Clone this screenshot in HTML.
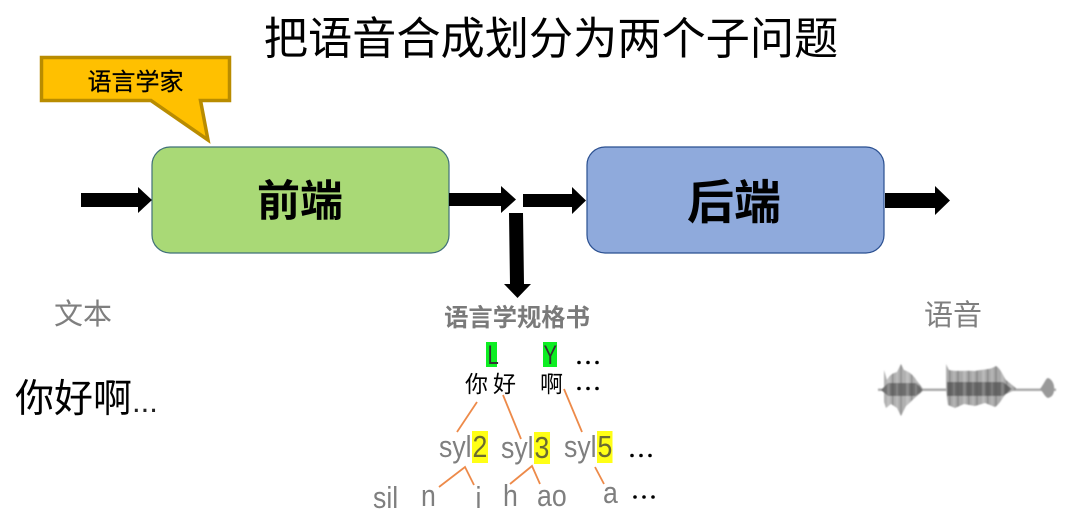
<!DOCTYPE html>
<html>
<head>
<meta charset="utf-8">
<style>
html,body{margin:0;padding:0;background:#fff;width:1080px;height:525px;overflow:hidden}
svg{display:block}
text{font-family:"Liberation Sans","Noto Sans CJK SC",sans-serif}
.g{fill:#7f7f7f}
.l{stroke:#ed8a4a;stroke-width:1.8;fill:none}
.s{font-size:31px}
</style>
</head>
<body>
<svg width="1080" height="525" viewBox="0 0 1080 525" xmlns="http://www.w3.org/2000/svg">
<defs>
<filter id="a" x="0" y="0" width="100%" height="100%"><feGaussianBlur stdDeviation="0.3"/></filter>
<filter id="w" x="-10%" y="-30%" width="120%" height="160%"><feGaussianBlur stdDeviation="0.9"/></filter>
<pattern id="st" width="19" height="60" patternUnits="userSpaceOnUse" x="880" y="360">
<rect x="1" width="2" height="60" fill="#555" opacity=".3"/>
<rect x="7" width="3" height="60" fill="#fff" opacity=".2"/>
<rect x="12" width="1.500" height="60" fill="#444" opacity=".3"/>
<rect x="16" width="2" height="60" fill="#fff" opacity=".15"/>
</pattern>
</defs>
<g filter="url(#a)">
<text x="551" y="54" font-size="44.2" text-anchor="middle" fill="#000">把语音合成划分为两个子问题</text>

<path d="M41.500 57.500H229.500V100.500H200.500L208 140L151 100.500H41.500Z" fill="#ffc000" stroke="#b98c00" stroke-width="3.500"/>
<text x="135.500" y="90" font-size="24" text-anchor="middle" fill="#000" stroke="#000" stroke-width=".25">语言学家</text>

<rect x="152" y="147" width="297" height="106" rx="18" fill="#a9d976" stroke="#3f6f78" stroke-width="1.200"/>
<rect x="587" y="147" width="297" height="106" rx="18" fill="#8faadc" stroke="#2a4f90" stroke-width="1.200"/>
<text x="300" y="216" font-size="43" font-weight="700" text-anchor="middle" fill="#000">前端</text>
<text x="734" y="219" font-size="47" font-weight="700" text-anchor="middle" fill="#000">后端</text>

<g fill="#000">
<path d="M81 193H138V187L152 200L138 213V207H81Z"/>
<path d="M449 193H501V186L516 199.500L501 213V206H449Z"/>
<path d="M523 194H572V187L586 200.500L572 214V207H523Z"/>
<path d="M509 213H523L524 284H531L517.500 298L504 284H510Z"/>
<path d="M885 193H935V186L950 200.500L935 215V208H885Z"/>
</g>

<text x="83" y="324" font-size="29" text-anchor="middle" class="g">文本</text>
<text x="953" y="325" font-size="29" text-anchor="middle" class="g">语音</text>
<text x="15" y="412" font-size="39" fill="#000">你好啊</text>
<text x="132" y="412" font-size="31" fill="#222">...</text>

<text x="517" y="326" font-size="24.300" font-weight="700" text-anchor="middle" fill="#7a7a7a">语言学规格书</text>

<rect x="486" y="342" width="11" height="25" fill="#0aee22"/>
<rect x="543" y="342" width="14" height="25" fill="#0aee22"/>
<text transform="translate(487.500 364) scale(.75 1)" font-size="27" fill="#333">L</text>
<text transform="translate(543.500 364) scale(.75 1)" font-size="27" fill="#333">Y</text>
<g fill="#000">
<circle cx="579" cy="362.500" r="1.800"/><circle cx="588" cy="362.500" r="1.800"/><circle cx="597" cy="362.500" r="1.800"/>
<circle cx="579" cy="388.500" r="1.800"/><circle cx="588" cy="388.500" r="1.800"/><circle cx="597" cy="388.500" r="1.800"/>
<circle cx="632" cy="455.500" r="1.800"/><circle cx="641" cy="455.500" r="1.800"/><circle cx="650" cy="455.500" r="1.800"/>
<circle cx="635" cy="497" r="1.800"/><circle cx="644" cy="497" r="1.800"/><circle cx="653" cy="497" r="1.800"/>
</g>
<text x="465" y="392" font-size="23" fill="#000">你</text>
<text x="493" y="392" font-size="23" fill="#000">好</text>
<text x="540" y="392" font-size="23" fill="#000">啊</text>

<rect x="472" y="431" width="16" height="32" fill="#ffff14"/>
<rect x="534" y="432" width="16" height="32" fill="#ffff14"/>
<rect x="597" y="431" width="15.500" height="32" fill="#ffff14"/>
<text class="g s" transform="translate(439 457) scale(.86 1)">syl</text>
<text class="s" fill="#6b6b30" transform="translate(472.500 457) scale(.86 1)">2</text>
<text class="g s" transform="translate(501 458) scale(.86 1)">syl</text>
<text class="s" fill="#6b6b30" transform="translate(534.500 458) scale(.86 1)">3</text>
<text class="g s" transform="translate(564 457) scale(.86 1)">syl</text>
<text class="s" fill="#6b6b30" transform="translate(597.500 457) scale(.86 1)">5</text>

<text class="g s" transform="translate(373 508) scale(.86 1)">sil</text>
<text class="g s" transform="translate(421 506) scale(.86 1)">n</text>
<text class="g s" transform="translate(475.500 508) scale(.86 1)">i</text>
<text class="g s" transform="translate(503 506) scale(.86 1)">h</text>
<text class="g s" transform="translate(537 506) scale(.86 1)">ao</text>
<text class="g s" transform="translate(603 503) scale(.86 1)">a</text>

<path class="l" d="M477 402L457 432"/>
<path class="l" d="M503 395L521 439"/>
<path class="l" d="M564 389L582 432"/>
<path class="l" d="M439 487L465 467L474 485"/>
<path class="l" d="M510 484L532 466L540 484"/>
<path class="l" d="M595 467L604 484"/>
</g>

<g filter="url(#w)">
<path d="M878 388.500H1056V391H878Z" fill="#aaa"/>
<path d="M884 390V370L887 380C890 374 894 373 897 372L901 364L904 370C910 372 914 376 917 381L924 390L917 396C912 400 909 404 906 406L901 416L897 408L891 404L886 408L884 402Z" fill="#b0b0b0"/>
<path d="M946 390V364L949 370C958 372 966 370 975 371C984 369 990 370 996 366C1001 369 1003 376 1006 380L1017 389L1006 394C1002 398 1000 404 995 407L985 403L975 406L964 404L955 408L948 405Z" fill="#a8a8a8"/>
<path d="M1040 389C1044 384 1046 378 1048 378C1052 379 1055 385 1054 390C1054 394 1052 397 1048 398C1045 397 1043 392 1040 389Z" fill="#999"/>
<path d="M881 390L888 383H916L923 390L916 396H888Z" fill="#6e6e6e"/>
<path d="M947 382H1003L1012 389L1003 396H947Z" fill="#666"/>
<path d="M884 390V370L887 380C890 374 894 373 897 372L901 364L904 370C910 372 914 376 917 381L924 390L917 396C912 400 909 404 906 406L901 416L897 408L891 404L886 408L884 402Z" fill="url(#st)"/>
<path d="M946 390V364L949 370C958 372 966 370 975 371C984 369 990 370 996 366C1001 369 1003 376 1006 380L1017 389L1006 394C1002 398 1000 404 995 407L985 403L975 406L964 404L955 408L948 405Z" fill="url(#st)"/>
</g>
</svg>
</body>
</html>
